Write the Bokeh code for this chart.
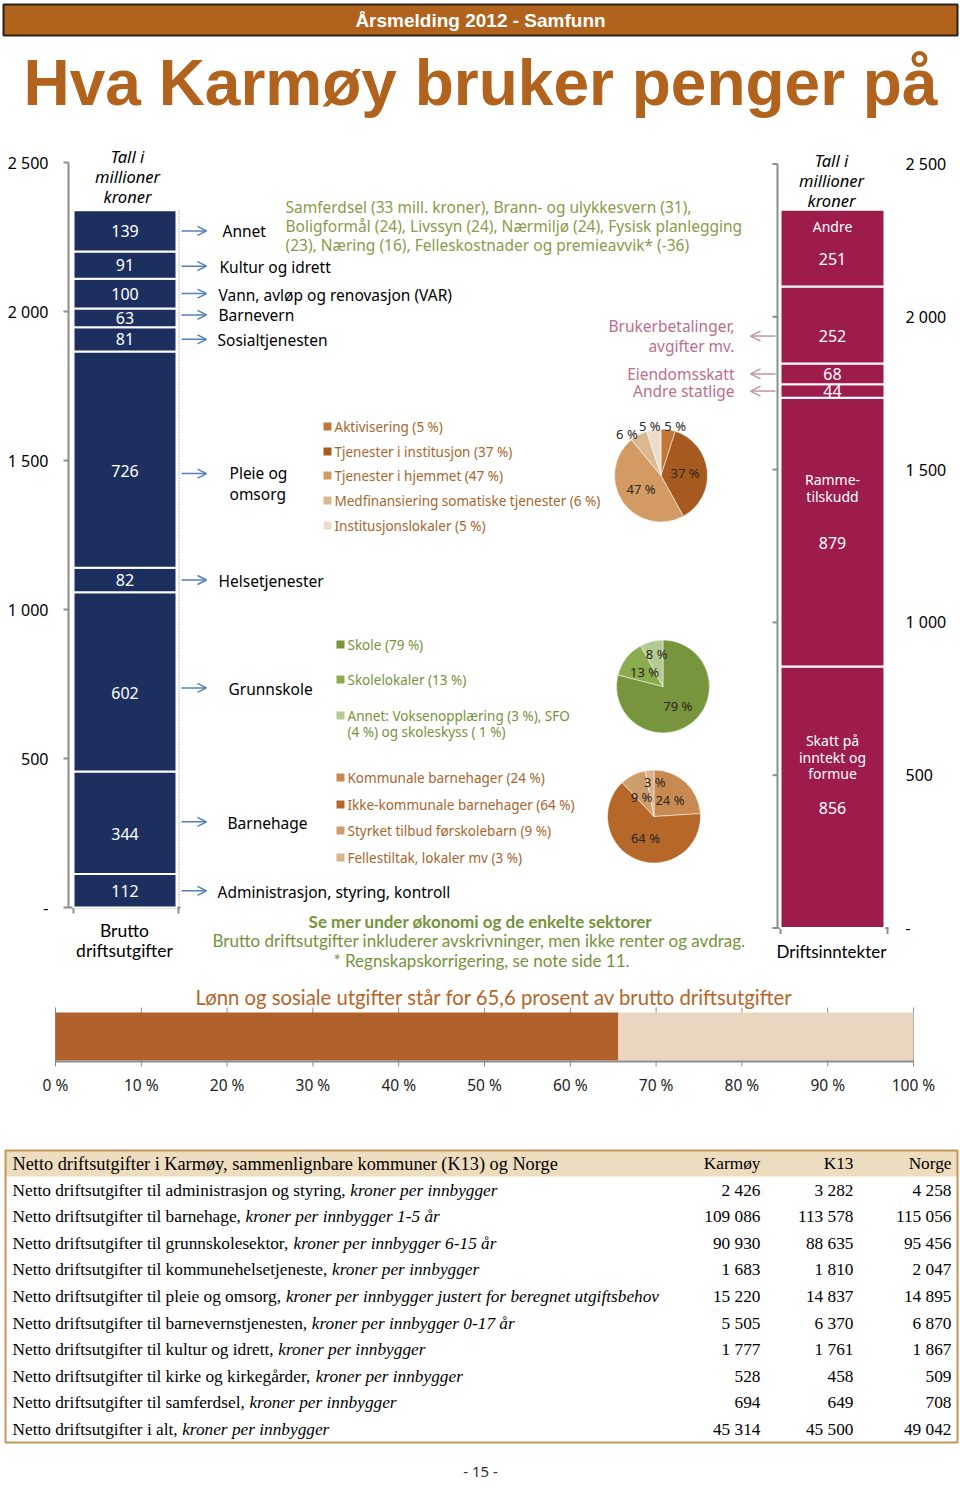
import numpy as np
from bokeh.plotting import figure
from bokeh.models import Range1d, Arrow, OpenHead
from bokeh.core.properties import value
from bokeh.embed import file_html
from bokeh.resources import INLINE

# ---------------- data ----------------
header_text = "Årsmelding 2012 - Samfunn"
title_text = "Hva Karmøy bruker penger på"

exp_cats = ["Administrasjon, styring, kontroll", "Barnehage", "Grunnskole", "Helsetjenester",
            "Pleie og\nomsorg", "Sosialtjenesten", "Barnevern",
            "Vann, avløp og renovasjon (VAR)", "Kultur og idrett", "Annet"]
exp_vals = [112, 344, 602, 82, 726, 81, 63, 100, 91, 139]

annet_note = ["Samferdsel (33 mill. kroner), Brann- og ulykkesvern (31),",
              "Boligformål (24),  Livssyn (24), Nærmiljø (24), Fysisk planlegging",
              "(23), Næring (16), Felleskostnader og premieavvik* (-36)"]

inc_cats = ["Skatt på\ninntekt og\nformue", "Ramme-\ntilskudd", "Andre statlige", "Eiendomsskatt",
            "Brukerbetalinger,\navgifter mv.", "Andre"]
inc_vals = [856, 879, 44, 68, 252, 251]
inc_inside = [True, True, False, False, False, True]

axis_ticks = [0, 500, 1000, 1500, 2000, 2500]
axis_tick_labels = ["-", "500", "1 000", "1 500", "2 000", "2 500"]
unit_label = "Tall i\nmillioner\nkroner"
left_foot = "Brutto\ndriftsutgifter"
right_foot = "Driftsinntekter"

pleie_labels = ["Aktivisering (5 %)", "Tjenester i institusjon (37 %)", "Tjenester i hjemmet (47 %)",
                "Medfinansiering somatiske tjenester (6 %)", "Institusjonslokaler (5 %)"]
pleie_pct = [5, 37, 47, 6, 5]
skole_labels = ["Skole (79 %)", "Skolelokaler (13 %)",
                "Annet: Voksenopplæring (3 %), SFO\n(4 %) og skoleskyss ( 1 %)"]
skole_pct = [79, 13, 8]
bhg_labels = ["Kommunale barnehager (24 %)", "Ikke-kommunale barnehager (64 %)",
              "Styrket tilbud førskolebarn (9 %)", "Fellestiltak, lokaler mv (3 %)"]
bhg_pct = [24, 64, 9, 3]

note_bold = "Se mer under økonomi og de enkelte sektorer"
note_lines = ["Brutto driftsutgifter  inkluderer avskrivninger, men ikke renter og avdrag.",
              "* Regnskapskorrigering, se note side 11."]

wage_title = "Lønn og sosiale utgifter står for 65,6 prosent av brutto driftsutgifter"
wage_share = 65.6
pct_ticks = list(range(0, 101, 10))

tbl_title = "Netto driftsutgifter i Karmøy, sammenlignbare kommuner (K13) og Norge"
tbl_cols = ["Karmøy", "K13", "Norge"]
tbl_main = ["Netto driftsutgifter til administrasjon og styring, ",
            "Netto driftsutgifter til barnehage, ",
            "Netto driftsutgifter til grunnskolesektor, ",
            "Netto driftsutgifter til kommunehelsetjeneste, ",
            "Netto driftsutgifter til pleie og omsorg, ",
            "Netto driftsutgifter til barnevernstjenesten, ",
            "Netto driftsutgifter til kultur og idrett, ",
            "Netto driftsutgifter til kirke og kirkegårder, ",
            "Netto driftsutgifter til samferdsel, ",
            "Netto driftsutgifter i alt, "]
tbl_ital = ["kroner per innbygger", "kroner per innbygger 1-5 år", "kroner per innbygger 6-15 år",
            "kroner per innbygger", "kroner per innbygger justert for beregnet utgiftsbehov",
            "kroner per innbygger 0-17 år", "kroner per innbygger", "kroner per innbygger",
            "kroner per innbygger", "kroner per innbygger"]
tbl_karmoy = [2426, 109086, 90930, 1683, 15220, 5505, 1777, 528, 694, 45314]
tbl_k13 = [3282, 113578, 88635, 1810, 14837, 6370, 1761, 458, 649, 45500]
tbl_norge = [4258, 115056, 95456, 2047, 14895, 6870, 1867, 509, 708, 49042]

page_no = "- 15 -"

# ---------------- style ----------------
BROWN = "#b1621c"
NAVY = "#1c2f5e"
CRIMSON = "#9d1c4c"
BLUE_ARROW = "#4f81bd"
PINK = "#bd6d8d"
PINK_ARROW = "#bf93a6"
OLIVE = "#8a9b4a"
GREEN = "#76923c"
GREY = "#8c8c8c"
SANS = value("Noto Sans")
CAL = value("Lato")
SERIF = value("Liberation Serif")
LH = 0.93  # line height factor for Noto Sans (~19px at 15px)

W, H = 960, 1480
X0, X1, Y0, Y1 = 0, 960, 0, 1480
L_ZERO, L_K = 907.0, 0.298
R_ZERO, R_K = 927.5, 0.3056
P_ZERO, P_K = 55.0, 8.58


def vrange(z, k):
    return Range1d(start=(z - Y1) / k, end=(z - Y0) / k)


p = figure(width=W, height=H, x_range=Range1d(X0, X1), y_range=Range1d(Y1, Y0),
           x_axis_location=None, y_axis_location=None, output_backend="svg",
           toolbar_location=None, min_border=0, outline_line_color=None)
p.grid.visible = False
p.extra_y_ranges = {"left": vrange(L_ZERO, L_K), "right": vrange(R_ZERO, R_K)}
p.extra_x_ranges = {"pct": Range1d(start=(X0 - P_ZERO) / P_K, end=(X1 - P_ZERO) / P_K)}


def txt(x, y, t, size, color="black", font=SANS, align="left", baseline="middle",
        style="normal", **kw):
    p.text(x=x, y=y, text=t, text_font=font, text_font_size=size, text_color=color,
           text_align=align, text_baseline=baseline, text_font_style=style, **kw)


# ---------------- header ----------------
p.quad(left=3, right=957, top=4, bottom=35, fill_color=BROWN, line_color="#2b2118", line_width=2)
txt([480], [20], [header_text], "19px", "white", value("Liberation Sans"), "center", style="bold")
txt([480], [82], [title_text], "64px", BROWN, value("Liberation Sans"), "center", style="bold")

# ---------------- left bar (expenses) ----------------
lv = np.array(exp_vals, dtype=float)
ltop = np.cumsum(lv)
lbot = ltop - lv
lmid = (ltop + lbot) / 2
lab_y = lmid - np.where(lv > 200, 11 / L_K, 0)

p.segment(x0=68, x1=68, y0=0, y1=axis_ticks[-1], y_range_name="left", line_color=GREY, line_width=2)
p.segment(x0=63, x1=68, y0=axis_ticks, y1=axis_ticks, y_range_name="left", line_color=GREY, line_width=2)
txt([48] * 6, axis_ticks, axis_tick_labels, "16px", "black", align="right", y_range_name="left")
p.segment(x0=68, x1=180, y0=0, y1=0, y_range_name="left", line_color=GREY, line_width=2)
p.segment(x0=[73, 178], x1=[73, 178], y0=0, y1=-6 / L_K, y_range_name="left", line_color=GREY, line_width=2)
p.segment(x0=178.5, x1=178.5, y0=0, y1=ltop[-1], y_range_name="left", line_color="#777777",
          line_width=1, line_dash="1 2")

p.vbar(x=124.5, width=103, bottom=lbot, top=ltop, y_range_name="left", fill_color=NAVY,
       line_color="white", line_width=2)
txt([124.5] * len(lv), list(lab_y), [str(v) for v in exp_vals], "16px", "white", align="center",
    y_range_name="left")

arrow_dy = [0, -12, -5, 0, 3, 0, -3, 0, 1, 0]
label_dy = [1, -11, -4, 1, 13, 1, -3, 1, 2, 0]
cat_x = [217, 227, 228, 218, 229, 217, 218, 218, 219, 222]
for i, c in enumerate(exp_cats):
    ya = lab_y[i] - arrow_dy[i] / L_K
    p.add_layout(Arrow(end=OpenHead(size=9, line_color=BLUE_ARROW, line_width=1.5),
                       x_start=181, x_end=206, y_start=ya, y_end=ya, y_range_name="left",
                       line_color=BLUE_ARROW, line_width=1.5))
txt(cat_x, list(lab_y - np.array(label_dy) / L_K), exp_cats, "15.5px", "black",
    y_range_name="left", text_line_height=LH)

txt([285] * 3, [206, 225, 244], annet_note, "15.5px", OLIVE)

txt([127], [176], [unit_label], "16.5px", "black", align="center", style="italic", text_line_height=0.85)
txt([124], [940], [left_foot], "17.5px", "black", CAL, "center", text_line_height=0.98)

# ---------------- right bar (income) ----------------
rv = np.array(inc_vals, dtype=float)
rtop = np.cumsum(rv)
rbot = rtop - rv
rmid = (rtop + rbot) / 2
rlab = rmid - np.where(rv > 200, 11 / R_K, 0)

p.segment(x0=777, x1=777, y0=0, y1=axis_ticks[-1], y_range_name="right", line_color=GREY, line_width=2)
p.segment(x0=772, x1=777, y0=axis_ticks, y1=axis_ticks, y_range_name="right", line_color=GREY, line_width=2)
txt([905] * 6, axis_ticks, axis_tick_labels, "16px", "black", y_range_name="right")
p.segment(x0=777, x1=888, y0=0, y1=0, y_range_name="right", line_color=GREY, line_width=2)
p.segment(x0=[780, 887], x1=[780, 887], y0=0, y1=-6 / R_K, y_range_name="right", line_color=GREY, line_width=2)

p.vbar(x=832, width=104, bottom=rbot, top=rtop, y_range_name="right", fill_color=CRIMSON,
       line_color="white", line_width=2)
txt([832] * len(rv), list(rlab), [str(v) for v in inc_vals], "16px", "white", align="center",
    y_range_name="right")

name_dy = [51, 55, 0, 0, 0, 33]
in_idx = [i for i in range(len(rv)) if inc_inside[i]]
out_idx = [i for i in range(len(rv)) if not inc_inside[i]]
txt([832] * len(in_idx), [rlab[i] + name_dy[i] / R_K for i in in_idx], [inc_cats[i] for i in in_idx],
    "14px", "white", align="center", y_range_name="right", text_line_height=0.87)
txt([734] * len(out_idx), [rlab[i] for i in out_idx], [inc_cats[i] for i in out_idx],
    "15.5px", PINK, align="right", y_range_name="right", text_line_height=LH)
for i in out_idx:
    p.add_layout(Arrow(end=OpenHead(size=10, line_color=PINK_ARROW, line_width=1.5),
                       x_start=775, x_end=750, y_start=rlab[i], y_end=rlab[i], y_range_name="right",
                       line_color=PINK_ARROW, line_width=1.5))

txt([831], [180], [unit_label], "16.5px", "black", align="center", style="italic", text_line_height=0.85)
txt([831], [951], [right_foot], "17px", "black", CAL, "center")

# ---------------- pies ----------------
R = 46.5


def pie(cx, cy, pcts, colors, lab_r, nudge, labels, leg_x, leg_y, leg_color):
    fr = np.array(pcts, dtype=float) / sum(pcts)
    c = np.concatenate([[0.0], np.cumsum(fr)])
    start = np.pi / 2 - 2 * np.pi * c[:-1]
    end = np.pi / 2 - 2 * np.pi * c[1:]
    p.wedge(x=cx, y=cy, radius=R, radius_units="screen", start_angle=start, end_angle=end,
            direction="clock", fill_color=colors, line_color="white", line_width=0.5)
    mid = (c[:-1] + c[1:]) * np.pi
    lr = np.array(lab_r) * R
    lx = cx + lr * np.sin(mid) + np.array([n[0] for n in nudge])
    ly = cy - lr * np.cos(mid) + np.array([n[1] for n in nudge])
    txt(list(lx), list(ly), [f"{v} %" for v in pcts], "13px", "#2e2620", align="center")
    p.scatter(x=[leg_x] * len(labels), y=leg_y, marker="square", size=8, fill_color=colors,
              line_color=None)
    xs, ys, ts = [], [], []
    for lab, yy in zip(labels, leg_y):
        for j, part in enumerate(lab.split("\n")):
            xs.append(leg_x + 7)
            ys.append(yy + 16 * j)
            ts.append(part)
    txt(xs, ys, ts, "13.5px", leg_color)


pie(660.5, 475, pleie_pct, ["#c27736", "#a65a1f", "#d39b63", "#dcb891", "#eedccb"],
    [1.12, 0.52, 0.52, 1.12, 1.12], [(6, 2), (0, 0), (0, 0), (-9, 4), (-3, 2)],
    pleie_labels, 327, [426, 451, 475, 500, 525], "#a8652c")
pie(662.5, 686, skole_pct, ["#77953c", "#8aab4e", "#b3ca91"],
    [0.52, 0.5, 0.72], [(0, 0), (0, 0), (2, 0)],
    skole_labels, 340, [644, 679, 715], GREEN)
pie(653.5, 816, bhg_pct, ["#c88a50", "#b5682a", "#cf9c6c", "#dbb38e"],
    [0.5, 0.5, 0.5, 0.75], [(0, 0), (0, 0), (-2, 1), (4, 0)],
    bhg_labels, 340, [777, 804, 830, 857], "#a8652c")

# ---------------- notes ----------------
txt([480], [921], [note_bold], "17px", GREEN, CAL, "center", style="bold")
txt([481, 481], [940, 960], note_lines, "17px", GREEN, CAL, "center")

# ---------------- wage share bar ----------------
txt([494], [996], [wage_title], "20.3px", "#b5652a", CAL, "center")
p.segment(x0=pct_ticks, x1=pct_ticks, y0=1007, y1=1066, x_range_name="pct", line_color="#8c8c8c",
          line_width=1)
p.hbar(y=1036, height=48, left=[0, wage_share], right=[wage_share, 100], x_range_name="pct",
       fill_color=["#b0622a", "#ecd5c0"], line_color=None)
p.segment(x0=0, x1=100, y0=1061, y1=1061, x_range_name="pct", line_color="#8c8c8c", line_width=2)
txt(pct_ticks, [1084] * len(pct_ticks), [f"{t} %" for t in pct_ticks], "15.5px", "#222222",
    align="center", x_range_name="pct")

# ---------------- table ----------------
TIMES = {' ': 250, ',': 250, '.': 250, '-': 333, '(': 333, ')': 333,
         'A': 722, 'B': 667, 'C': 667, 'D': 722, 'E': 611, 'F': 556, 'G': 722, 'H': 722, 'I': 333,
         'J': 389, 'K': 722, 'L': 611, 'M': 889, 'N': 722, 'O': 722, 'P': 556, 'R': 667, 'S': 556,
         'T': 611, 'U': 722, 'V': 722, 'W': 944,
         'a': 444, 'b': 500, 'c': 444, 'd': 500, 'e': 444, 'f': 333, 'g': 500, 'h': 500, 'i': 278,
         'j': 278, 'k': 500, 'l': 278, 'm': 778, 'n': 500, 'o': 500, 'p': 500, 'q': 500, 'r': 333,
         's': 389, 't': 278, 'u': 500, 'v': 500, 'w': 722, 'x': 500, 'y': 500, 'z': 444,
         'å': 444, 'ø': 500, 'æ': 667}
TFS = 17.3


def twidth(s):
    return sum(TIMES.get(ch, 500) for ch in s) / 1000.0 * TFS


row_y = [1163 + 26.6 * i for i in range(len(tbl_main) + 1)]
p.quad(left=5, right=957, top=1150, bottom=1176, fill_color="#eedcbf", line_color=None)
p.quad(left=5, right=957, top=1150, bottom=1442, fill_color=None, line_color="#c0965a", line_width=2)
txt([12], [row_y[0]], [tbl_title], "18.3px", "black", SERIF)
txt([760, 853, 951], [row_y[0]] * 3, tbl_cols, f"{TFS}px", "black", SERIF, "right")

fmt = lambda v: f"{v:,}".replace(",", " ")
txt([12] * len(tbl_main), row_y[1:], tbl_main, f"{TFS}px", "black", SERIF)
txt([12 + twidth(s) for s in tbl_main], row_y[1:], tbl_ital, f"{TFS}px", "black", SERIF,
    style="italic")
txt([760] * len(tbl_main), row_y[1:], [fmt(v) for v in tbl_karmoy], f"{TFS}px", "black", SERIF, "right")
txt([853] * len(tbl_main), row_y[1:], [fmt(v) for v in tbl_k13], f"{TFS}px", "black", SERIF, "right")
txt([951] * len(tbl_main), row_y[1:], [fmt(v) for v in tbl_norge], f"{TFS}px", "black", SERIF, "right")

txt([480], [1470], [page_no], "15px", "#333333", align="center")

open("out.html", "w").write(file_html(p, INLINE))
